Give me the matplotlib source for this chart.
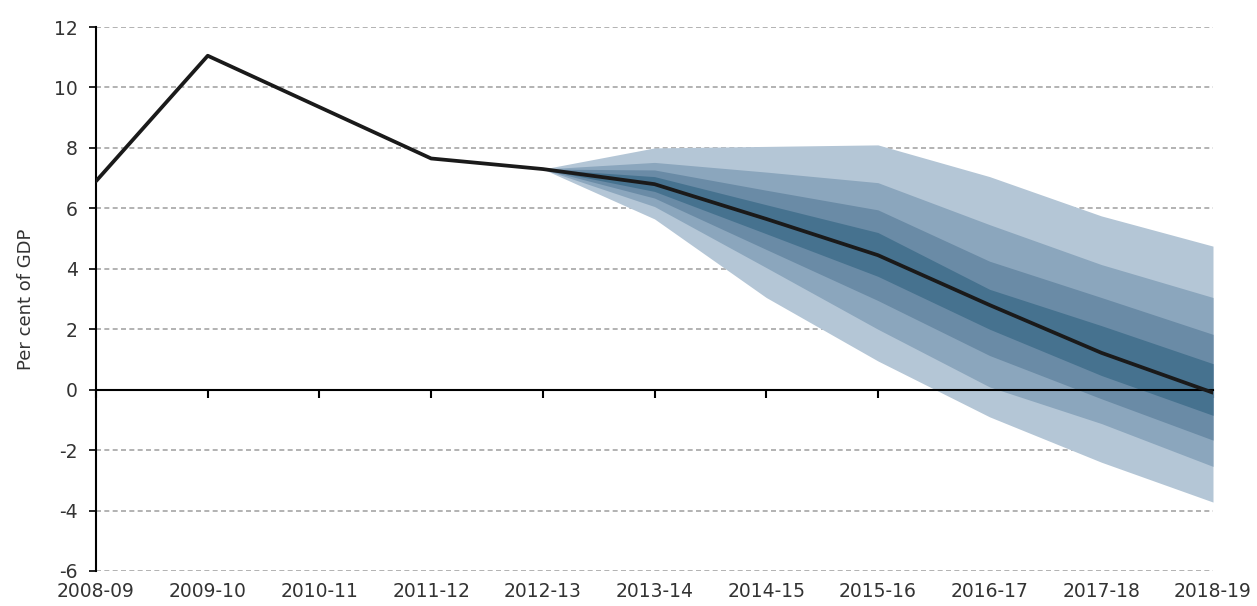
import matplotlib
matplotlib.use('Agg')
import matplotlib.pyplot as plt

years = ["2008-09", "2009-10", "2010-11", "2011-12", "2012-13", "2013-14",
         "2014-15", "2015-16", "2016-17", "2017-18", "2018-19"]

# central projection (per cent of GDP)
central = [6.9, 11.05, 9.35, 7.65, 7.3, 6.8, 5.65, 4.45, 2.8, 1.22, -0.1]

# fan chart band edges, from 2012-13 onwards (top to bottom)
fan_years = years[4:]
upper90 = [7.3, 8.0, 8.05, 8.1, 7.05, 5.75, 4.75]
upper70 = [7.3, 7.52, 7.2, 6.85, 5.46, 4.14, 3.05]
upper50 = [7.3, 7.27, 6.6, 5.95, 4.25, 3.05, 1.83]
upper30 = [7.3, 7.05, 6.12, 5.2, 3.32, 2.12, 0.86]
lower30 = [7.3, 6.56, 5.16, 3.75, 2.0, 0.47, -0.85]
lower50 = [7.3, 6.34, 4.64, 2.95, 1.13, -0.3, -1.67]
lower70 = [7.3, 6.06, 4.04, 2.0, 0.09, -1.12, -2.54]
lower90 = [7.3, 5.65, 3.05, 0.95, -0.9, -2.4, -3.72]

yticks = list(range(-6, 13, 2))

plt.rcParams['font.family'] = ['DejaVu Sans']
plt.rcParams['axes.unicode_minus'] = False

fig = plt.figure(figsize=(12.57, 6.06), dpi=100)
ax = fig.add_axes([0.0764, 0.0578, 0.8886, 0.8976])

x = list(range(len(years)))
fx = x[4:]

band_colors = ['#b4c6d6', '#8ba6bd', '#6a8ba6', '#46728f']
ax.fill_between(fx, lower90, upper90, color=band_colors[0], lw=0, zorder=2)
ax.fill_between(fx, lower70, upper70, color=band_colors[1], lw=0, zorder=2)
ax.fill_between(fx, lower50, upper50, color=band_colors[2], lw=0, zorder=2)
ax.fill_between(fx, lower30, upper30, color=band_colors[3], lw=0, zorder=2)

ax.plot(x, central, color='#1a1a1a', lw=2.7, zorder=4, solid_capstyle='round')

# dashed gridlines except zero
for t in yticks:
    if t != 0:
        ax.axhline(t, color='#a6a6a6', lw=1.2, ls=(0, (3, 2)), zorder=1)

ax.set_xlim(0, len(years) - 1)
ax.set_ylim(-6, 12)
ax.set_yticks(yticks)
ax.tick_params(axis='y', direction='out', length=5, width=1.2,
               labelsize=13.5, labelcolor='#333333', pad=8)

for s in ['top', 'right']:
    ax.spines[s].set_visible(False)
ax.spines['left'].set_linewidth(1.5)
ax.spines['bottom'].set_position(('data', 0))
ax.spines['bottom'].set_linewidth(1.5)
ax.spines['bottom'].set_zorder(3)

ax.set_xticks(x)
ax.set_xticklabels([])
ax.tick_params(axis='x', direction='out', length=6, width=1.5)

sec = ax.secondary_xaxis(0.0)
sec.set_xticks(x)
sec.set_xticklabels(years)
sec.tick_params(axis='x', length=0, labelsize=13.5, labelcolor='#333333', pad=8)
sec.spines['bottom'].set_visible(False)

ax.set_ylabel('Per cent of GDP', fontsize=13, color='#333333', labelpad=14)

fig.savefig('out.png', dpi=100)
plt.close()
